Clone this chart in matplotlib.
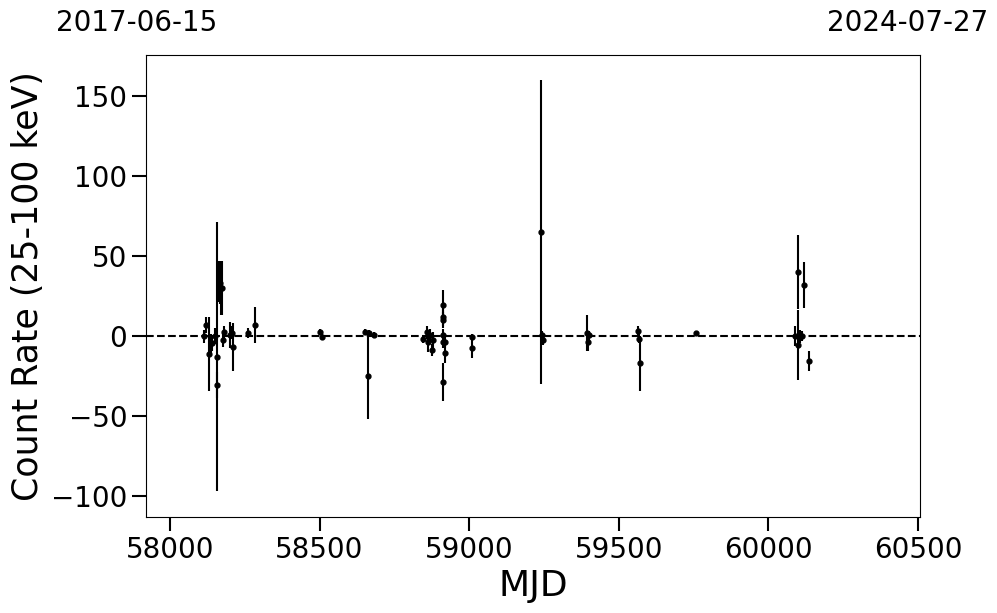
import numpy as np
import matplotlib.pyplot as plt

# light curve values
mjd = [58114, 58119, 58130, 58137, 58142, 58150, 58157, 58159, 58163, 58167,
       58170, 58174, 58176, 58181, 58200, 58209, 58210, 58260, 58286,
       58501, 58508, 58652, 58662, 58665, 58682,
       58846, 58859, 58863, 58869, 58876, 58879,
       58912, 58914, 58914, 58914, 58914, 58919, 58919, 58914,
       59008, 59008,
       59240, 59243, 59246,
       59393, 59396, 59400,
       59565, 59567, 59571,
       59758,
       60089, 60098, 60100, 60107, 60114, 60119, 60137]
rate = [0.0, 7.0, -11.0, -4.5, -4.0, 0.0, -13.0, -30.5, 34.0, 33.0,
        30.0, 30.0, -2.5, 2.5, 0.5, 2.0, -7.0, 2.0, 7.0,
        2.5, -0.5, 2.5, -25.0, 2.0, 1.0,
        -2.0, 2.5, -3.7, 0.5, -8.7, -2.5,
        19.5, 12.0, 10.0, 0.5, -3.5, -3.5, -10.5, -28.5,
        -0.5, -7.5,
        65.0, 0.5, -2.5,
        2.0, -3.5, 0.5,
        3.5, -1.5, -17.0,
        1.7,
        0.0, -5.5, 40.0, 0.0, 0.0, 32.0, -15.5]
err = [4.0, 5.0, 23.0, 6.0, 5.0, 5.0, 84.0, 8.0, 13.0, 13.0,
       17.0, 17.0, 4.0, 4.0, 8.0, 4.0, 15.0, 3.0, 11.0,
       2.0, 2.0, 2.0, 27.0, 2.0, 1.5,
       2.0, 4.0, 6.0, 4.0, 4.0, 5.0,
       9.0, 6.0, 5.0, 4.0, 4.0, 4.0, 6.0, 12.0,
       2.0, 6.0,
       95.0, 3.0, 3.0,
       11.0, 6.0, 3.0,
       3.0, 3.0, 17.0,
       1.0,
       6.0, 22.0, 23.0, 4.0, 3.0, 14.5, 6.0]

start_label = "2017-06-15"
end_label = "2024-07-27"

fig = plt.figure(figsize=(9.97, 6.13), dpi=100)
ax = fig.add_axes([0.1464, 0.1566, 0.7764, 0.7537])

ax.errorbar(mjd, rate, yerr=err, fmt='o', color='black', ms=3.5,
            elinewidth=1.5, capsize=0)
ax.axhline(0, color='black', ls='--', lw=1.5)

ax.set_xlim(57920, 60507)
ax.set_ylim(-113, 175.6)
ax.set_xticks([58000, 58500, 59000, 59500, 60000, 60500])
ax.set_yticks([-100, -50, 0, 50, 100, 150])
ax.tick_params(labelsize=20, length=10, width=1.5)
ax.set_xlabel("MJD", fontsize=26)
ax.set_ylabel("Count Rate (25-100 keV)", fontsize=25)

fig.text(0.137, 0.962, start_label, fontsize=20, ha='center', va='center')
fig.text(0.91, 0.962, end_label, fontsize=20, ha='center', va='center')

fig.savefig("out.png", dpi=100)
